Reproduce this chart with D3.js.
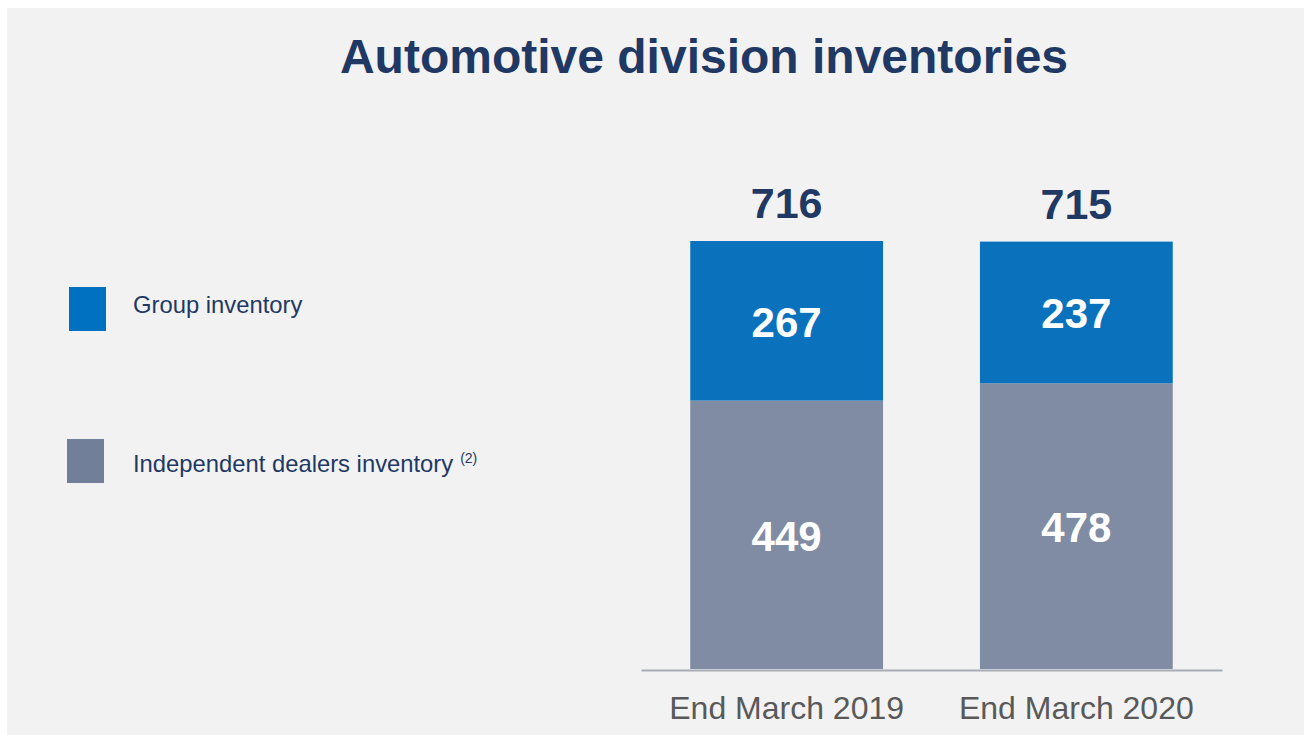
<!DOCTYPE html>
<html>
<head>
<meta charset="utf-8">
<script src="https://cdn.jsdelivr.net/npm/d3@7"></script>
<style>
  html, body { margin: 0; padding: 0; background: #ffffff; }
  svg { display: block; font-family: "Liberation Sans", Arial, sans-serif; }
</style>
</head>
<body>
<script>
// chart data
const categories = ['End March 2019', 'End March 2020'];
const groupInventory = [267, 237];
const dealersInventory = [449, 478];
const totals = [716, 715];
const seriesNames = ['Group inventory', 'Independent dealers inventory'];

const width = 1304;
const height = 735;
const navy = '#1f3864';
const colors = ['#0a72bd', '#7f8ca3'];
const legendColors = ['#0070c0', '#717f98'];

const svg = d3.select('body')
  .append('svg')
  .attr('width', width)
  .attr('height', height);

// gray slide panel
svg.append('rect')
  .attr('x', 7)
  .attr('y', 8)
  .attr('width', width - 7)
  .attr('height', height - 8)
  .attr('fill', '#f2f2f2');

svg.append('text')
  .attr('x', 704)
  .attr('y', 73)
  .attr('text-anchor', 'middle')
  .style('font-size', '48px')
  .style('font-weight', 'bold')
  .style('fill', navy)
  .text('Automotive division inventories');

const x = d3.scaleBand()
  .domain(categories)
  .range([641, 1222])
  .paddingInner(0.3345)
  .paddingOuter(0.17);

const y = d3.scaleLinear()
  .domain([0, d3.max(totals)])
  .range([669, 241]);

const rows = categories.map((c, i) => ({
  cat: c,
  group: groupInventory[i],
  dealers: dealersInventory[i],
  total: totals[i]
}));

const stack = d3.stack().keys(['dealers', 'group'])(rows);

const layers = svg.append('g')
  .selectAll('g')
  .data(stack)
  .enter().append('g')
    .attr('fill', d => d.key === 'group' ? colors[0] : colors[1]);

layers.selectAll('rect')
  .data(d => d)
  .enter().append('rect')
    .attr('x', d => x(d.data.cat))
    .attr('y', d => y(d[1]))
    .attr('width', x.bandwidth())
    .attr('height', d => y(d[0]) - y(d[1]));

// values inside the segments
layers.selectAll('text')
  .data(d => d.map(s => ({s: s, key: d.key})))
  .enter().append('text')
    .attr('x', d => x(d.s.data.cat) + x.bandwidth() / 2)
    .attr('y', d => (y(d.s[0]) + y(d.s[1])) / 2 + 16)
    .attr('text-anchor', 'middle')
    .style('font-size', '42px')
    .style('font-weight', 'bold')
    .style('fill', '#ffffff')
    .text(d => d.s.data[d.key]);

// totals on top
svg.append('g')
  .selectAll('text')
  .data(rows)
  .enter().append('text')
    .attr('x', d => x(d.cat) + x.bandwidth() / 2)
    .attr('y', d => y(d.total) - 23)
    .attr('text-anchor', 'middle')
    .style('font-size', '43px')
    .style('font-weight', 'bold')
    .style('fill', navy)
    .text(d => d.total);

// baseline axis
const axis = svg.append('g')
  .attr('transform', `translate(0,${y(0) + 1})`)
  .call(d3.axisBottom(x).tickSize(0).tickPadding(26));

axis.select('.domain')
  .attr('stroke', '#a6abb5')
  .attr('stroke-width', 2);

axis.selectAll('text')
  .style('font-family', '"Liberation Sans", Arial, sans-serif')
  .style('font-size', '32px')
  .style('fill', '#595959');

// legend
const legendY = [309, 461];
const legendX = [69, 67];

const legend = svg.append('g')
  .selectAll('g')
  .data(seriesNames)
  .enter().append('g');

legend.append('rect')
  .attr('x', (d, i) => legendX[i])
  .attr('y', (d, i) => legendY[i] - 22)
  .attr('width', 37)
  .attr('height', 44)
  .attr('fill', (d, i) => legendColors[i]);

const legendText = legend.append('text')
  .attr('x', 133)
  .attr('y', (d, i) => legendY[i] + 4 + (i === 1 ? 7 : 0))
  .style('font-size', '23.8px')
  .style('fill', navy)
  .text(d => d);

legendText.filter((d, i) => i === 1)
  .append('tspan')
  .attr('dx', 7)
  .attr('dy', -9)
  .style('font-size', '14px')
  .text('(2)');
</script>
</body>
</html>
